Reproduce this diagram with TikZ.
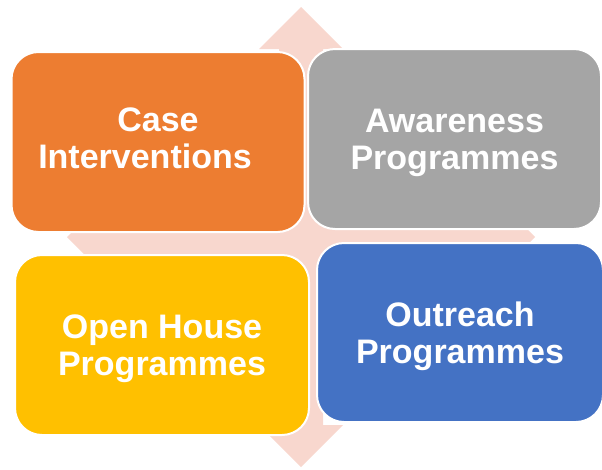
\documentclass[tikz,border=0pt]{standalone}
\usepackage{fontspec}
\setmainfont{Liberation Sans}
\usetikzlibrary{calc}
\definecolor{caseor}{HTML}{ED7D31}
\definecolor{awaregray}{HTML}{A5A5A5}
\definecolor{openyel}{HTML}{FFC000}
\definecolor{reachblue}{HTML}{4472C4}
\definecolor{quadpink}{HTML}{F8D7CE}
\tikzset{
  tile/.style={draw=white, line width=2pt, rounded corners=27pt, align=center, text=white,
    font=\bfseries\fontsize{34}{37}\selectfont, inner sep=0pt, text depth=0pt,
    minimum width=293pt, minimum height=180pt},
  quad/.style={fill=quadpink, draw=none},
}

\begin{document}
\begin{tikzpicture}[x=1pt, y=-1pt]
  \useasboundingbox (0,0) rectangle (602,469);
  \coordinate (hub) at (301,237);
  % four-way arrow behind the tiles
  \fill[quad] ($(hub)+(0,-230)$) -- ++(42,42) -- ++(-20,0) -- ++(0,166) -- ++(170,0) -- ++(0,-20)
    -- ++(42,42) -- ++(-42,42) -- ++(0,-20) -- ++(-170,0) -- ++(0,166) -- ++(20,0)
    -- ++(-42,42) -- ++(-42,-42) -- ++(20,0) -- ++(0,-166) -- ++(-170,0) -- ++(0,20)
    -- ++(-42,-42) -- ++(42,-42) -- ++(0,20) -- ++(170,0) -- ++(0,-166) -- ++(-20,0) -- cycle;
  \node[tile, fill=caseor, text depth=8pt] (case) at (158,142) {Case\\Interventions\hspace*{26pt}};
  \node[tile, fill=awaregray] (aware) at (454.5,139) {Awareness\\Programmes};
  \node[tile, fill=openyel, minimum width=294pt] (open) at (162,345) {Open House\\Programmes};
  \node[tile, fill=reachblue, minimum width=286pt, minimum height=179pt] (reach) at (460,332.5) {Outreach\\Programmes};
\end{tikzpicture}
\end{document}
